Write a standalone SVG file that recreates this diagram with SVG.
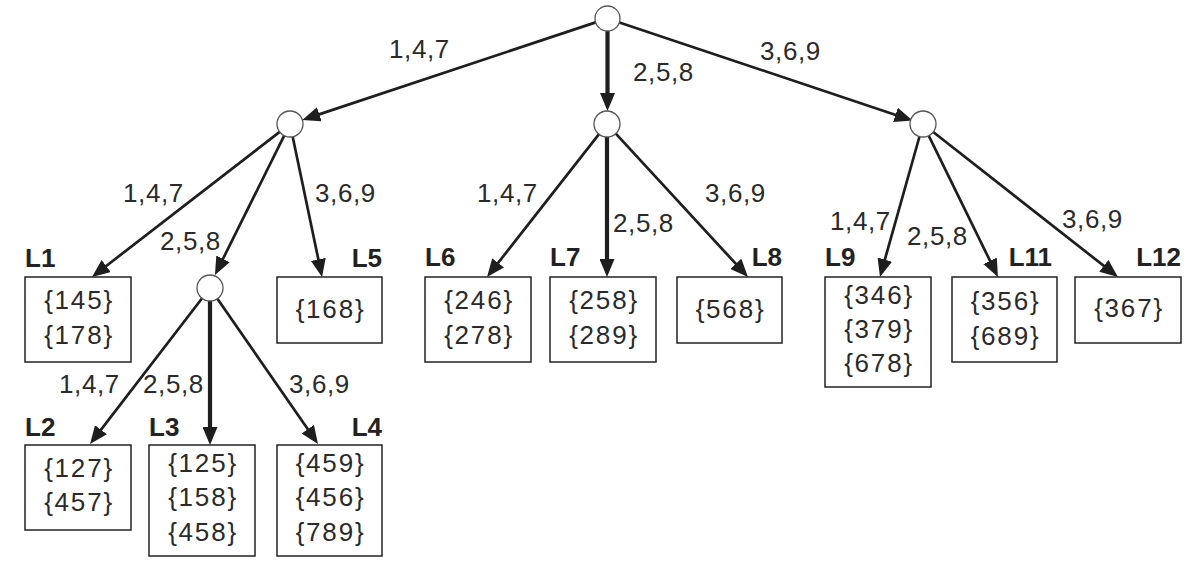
<svg xmlns="http://www.w3.org/2000/svg" width="1194" height="566" viewBox="0 0 1194 566">
<style>
.node circle{fill:#fff;stroke:#555;stroke-width:1.3}
.box rect{fill:#fff;stroke:#222;stroke-width:1.5}
.set{font-family:"Liberation Sans",Arial,sans-serif;font-size:26px;fill:#2a2a2a;text-anchor:middle;letter-spacing:1.8px}
.lbl{font-family:"Liberation Sans",Arial,sans-serif;font-size:26px;font-weight:bold;fill:#222}
.el{font-family:"Liberation Sans",Arial,sans-serif;font-size:26px;fill:#2a2a2a;letter-spacing:0.6px}
.edge{stroke:#1e1e1e;stroke-width:2.7;fill:none;marker-end:url(#ah)}
.thick{stroke-width:4.2}
</style>
<defs>
<marker id="ah" markerUnits="userSpaceOnUse" viewBox="0 0 18 15" refX="9" refY="7.5" markerWidth="18" markerHeight="15" orient="auto">
<path d="M0,0 L18,7.5 L0,15 z" fill="#1e1e1e"/>
</marker>
</defs>
<rect width="1194" height="566" fill="#fff"/>
<g id="connectors">
<line class="edge" x1="595.6" y1="22.4" x2="310.8" y2="117.1"/>
<line class="edge thick" x1="607.5" y1="31" x2="607.5" y2="102"/>
<line class="edge" x1="619.4" y1="22.5" x2="904.0" y2="117.7"/>
<line class="edge" x1="279.7" y1="131.9" x2="99.1" y2="271.5"/>
<line class="edge" x1="284.2" y1="135.6" x2="219.0" y2="266.9"/>
<line class="edge" x1="292.7" y1="136.7" x2="320.2" y2="268.2"/>
<line class="edge" x1="202.1" y1="298.3" x2="95.5" y2="436.9"/>
<line class="edge thick" x1="210" y1="301" x2="210" y2="436"/>
<line class="edge" x1="217.4" y1="298.7" x2="312.9" y2="436.6"/>
<line class="edge" x1="599" y1="134.2" x2="492.6" y2="269.9"/>
<line class="edge thick" x1="607" y1="137" x2="607" y2="268"/>
<line class="edge" x1="615.8" y1="133.6" x2="741.9" y2="270.4"/>
<line class="edge" x1="919.5" y1="136.5" x2="882.4" y2="268.3"/>
<line class="edge" x1="928.7" y1="135.7" x2="994.0" y2="268.9"/>
<line class="edge" x1="933.2" y1="132" x2="1110.9" y2="271.4"/>
<text class="el" x="389" y="58">1,4,7</text>
<text class="el" x="633" y="81">2,5,8</text>
<text class="el" x="760" y="60">3,6,9</text>
<text class="el" x="123" y="202">1,4,7</text>
<text class="el" x="160" y="250">2,5,8</text>
<text class="el" x="315" y="202">3,6,9</text>
<text class="el" x="59" y="393">1,4,7</text>
<text class="el" x="143" y="393">2,5,8</text>
<text class="el" x="289" y="393">3,6,9</text>
<text class="el" x="477" y="202">1,4,7</text>
<text class="el" x="613" y="232">2,5,8</text>
<text class="el" x="705" y="202">3,6,9</text>
<text class="el" x="830" y="230">1,4,7</text>
<text class="el" x="907" y="245">2,5,8</text>
<text class="el" x="1062" y="228">3,6,9</text>
</g>
<g id="root" class="node"><circle cx="607.5" cy="18.5" r="12.5"/></g>
<g id="n1" class="node"><circle cx="290" cy="124" r="13"/></g>
<g id="n2" class="node"><circle cx="607" cy="124" r="13"/></g>
<g id="n3" class="node"><circle cx="923" cy="124" r="13"/></g>
<g id="n11" class="node"><circle cx="210" cy="288" r="13"/></g>
<g id="L1" class="box"><rect x="25" y="277" width="106" height="85"/><text class="lbl" x="25" y="267">L1</text><text class="set" x="79" y="309">{145}</text><text class="set" x="79" y="344">{178}</text></g>
<g id="L5" class="box"><rect x="277" y="277" width="105" height="66"/><text class="lbl" x="382" y="267" text-anchor="end">L5</text><text class="set" x="330.5" y="318">{168}</text></g>
<g id="L2" class="box"><rect x="25" y="445" width="106" height="85"/><text class="lbl" x="25" y="436">L2</text><text class="set" x="79" y="477">{127}</text><text class="set" x="79" y="511">{457}</text></g>
<g id="L3" class="box"><rect x="149" y="445" width="106" height="111"/><text class="lbl" x="149" y="436">L3</text><text class="set" x="203" y="472">{125}</text><text class="set" x="203" y="506">{158}</text><text class="set" x="203" y="541">{458}</text></g>
<g id="L4" class="box"><rect x="277" y="445" width="105" height="111"/><text class="lbl" x="382" y="436" text-anchor="end">L4</text><text class="set" x="330.5" y="472">{459}</text><text class="set" x="330.5" y="506">{456}</text><text class="set" x="330.5" y="541">{789}</text></g>
<g id="L6" class="box"><rect x="425" y="277" width="106" height="85"/><text class="lbl" x="425" y="266">L6</text><text class="set" x="479" y="309">{246}</text><text class="set" x="479" y="344">{278}</text></g>
<g id="L7" class="box"><rect x="550" y="277" width="106" height="85"/><text class="lbl" x="550" y="266">L7</text><text class="set" x="604" y="309">{258}</text><text class="set" x="604" y="344">{289}</text></g>
<g id="L8" class="box"><rect x="677" y="277" width="105" height="66"/><text class="lbl" x="782" y="266" text-anchor="end">L8</text><text class="set" x="730.5" y="318">{568}</text></g>
<g id="L9" class="box"><rect x="825" y="277" width="106" height="110"/><text class="lbl" x="825" y="266">L9</text><text class="set" x="879" y="304">{346}</text><text class="set" x="879" y="338">{379}</text><text class="set" x="879" y="372">{678}</text></g>
<g id="L11" class="box"><rect x="952" y="277" width="105" height="85"/><text class="lbl" x="1052" y="266" text-anchor="end">L11</text><text class="set" x="1005.5" y="310">{356}</text><text class="set" x="1005.5" y="345">{689}</text></g>
<g id="L12" class="box"><rect x="1075" y="277" width="106" height="66"/><text class="lbl" x="1181" y="266" text-anchor="end">L12</text><text class="set" x="1129" y="317">{367}</text></g>
</svg>
